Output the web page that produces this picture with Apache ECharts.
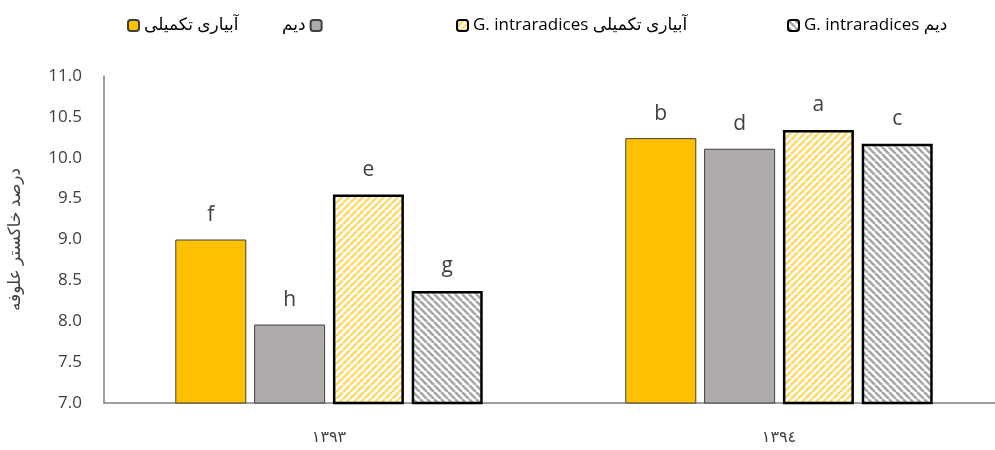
<!DOCTYPE html>
<html>
<head>
<meta charset="utf-8">
<script src="https://cdn.jsdelivr.net/npm/echarts@6/dist/echarts.min.js"></script>
<style>
  html, body { margin: 0; padding: 0; background: #fff; }
  #chart { width: 995px; height: 450px; }
</style>
</head>
<body>
<div id="chart"></div>
<script>
// data
const years = ['۱۳۹۳', '۱۳۹٤']
const seriesNames = [
  'آبیاری تکمیلی',
  'دیم',
  'G. intraradices آبیاری تکمیلی',
  'G. intraradices دیم'
]
const irrigated = [9.0, 10.24]
const rainfed = [7.96, 10.11]
const irrigatedInoc = [9.55, 10.34]
const rainfedInoc = [8.37, 10.17]
const letters = [
  ['f', 'b'],
  ['h', 'd'],
  ['e', 'a'],
  ['g', 'c']
]

const font = '"Open Sans", "DejaVu Sans", sans-serif'

// striped fill for the inoculated bars
function hatch (color, dir) {
  const s = 7
  const c = document.createElement('canvas')
  c.width = s
  c.height = s
  const ctx = c.getContext('2d')
  ctx.fillStyle = '#fff'
  ctx.fillRect(0, 0, s, s)
  ctx.strokeStyle = color
  ctx.lineWidth = 2.6
  ctx.beginPath()
  for (let k = -1; k <= 1; k++) {
    if (dir === '/') {
      ctx.moveTo(k * s, s)
      ctx.lineTo(k * s + s, 0)
    } else {
      ctx.moveTo(k * s, 0)
      ctx.lineTo(k * s + s, s)
    }
  }
  ctx.stroke()
  return { image: c, repeat: 'repeat' }
}

const styles = [
  { color: '#FFC000', borderColor: '#404040', borderWidth: 1 },
  { color: '#AFABAB', borderColor: '#404040', borderWidth: 1 },
  { color: hatch('#FFD966', '/'), borderColor: '#000', borderWidth: 2.5 },
  { color: hatch('#A6A6A6', '\\'), borderColor: '#000', borderWidth: 2.5 }
]
const values = [irrigated, rainfed, irrigatedInoc, rainfedInoc]

const chart = echarts.init(document.getElementById('chart'))

const series = values.map((vals, i) => ({
  name: seriesNames[i],
  type: 'bar',
  barWidth: 71,
  barGap: '11%',
  data: vals,
  itemStyle: styles[i],
  label: {
    show: true,
    position: 'top',
    distance: 14,
    fontSize: 21,
    fontFamily: font,
    color: '#404040',
    formatter: p => letters[i][p.dataIndex]
  }
}))

const legendPos = [
  { left: 122, align: 'left' },
  { left: 277, align: 'right' },
  { left: 451, align: 'left' },
  { left: 782, align: 'left' }
]
const legends = seriesNames.map((n, i) => ({
  data: [n],
  top: 12,
  left: legendPos[i].left,
  align: legendPos[i].align,
  itemWidth: 11,
  itemHeight: 11,
  itemGap: 5,
  selectedMode: false,
  textStyle: { fontSize: 17, fontFamily: font, color: '#000' }
}))

chart.setOption({
  animation: false,
  legend: legends,
  grid: { left: 104, top: 76, width: 900, height: 327, outerBoundsMode: 'none' },
  xAxis: {
    type: 'category',
    data: years,
    axisLine: { lineStyle: { color: '#7F7F7F', width: 1.5 } },
    axisTick: { show: false },
    axisLabel: { fontSize: 16, margin: 26, color: '#404040', fontFamily: font }
  },
  yAxis: {
    type: 'value',
    min: 7,
    max: 11,
    interval: 0.5,
    name: 'درصد خاکستر علوفه',
    nameLocation: 'middle',
    nameGap: 80,
    nameTextStyle: { fontSize: 17, color: '#404040', fontFamily: font },
    axisLine: { show: true, lineStyle: { color: '#7F7F7F', width: 1.5 } },
    axisTick: { show: false },
    splitLine: { show: false },
    axisLabel: {
      fontSize: 17,
      margin: 22,
      color: '#404040',
      fontFamily: font,
      formatter: v => v.toFixed(1)
    }
  },
  series: series
})
</script>
</body>
</html>
